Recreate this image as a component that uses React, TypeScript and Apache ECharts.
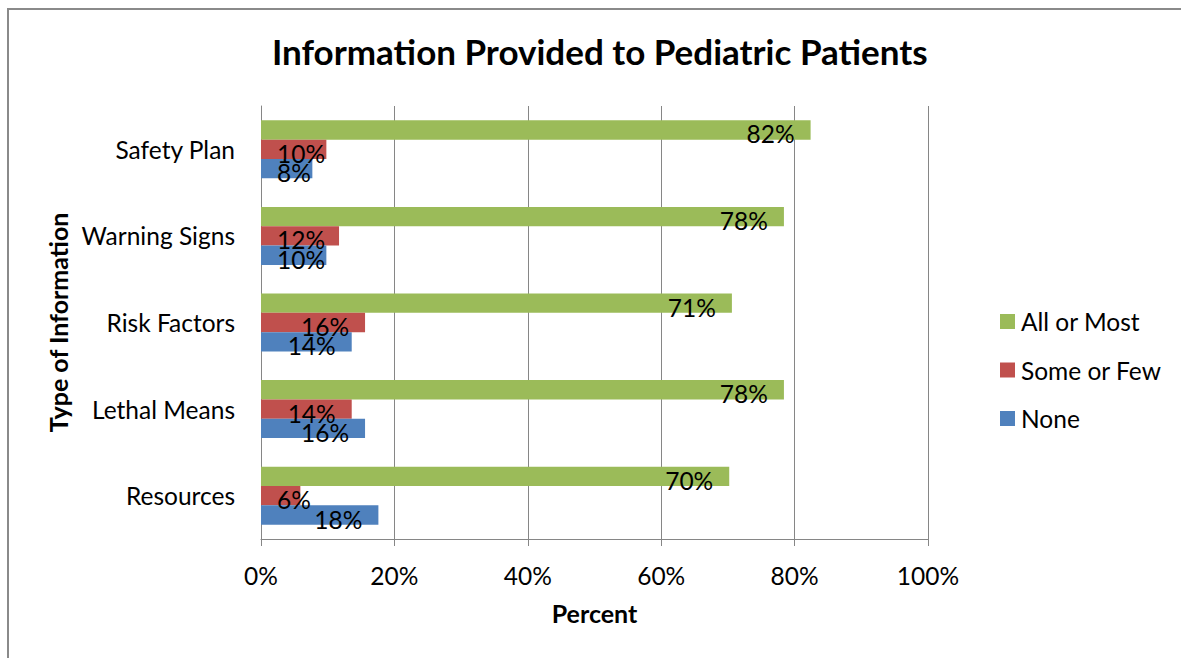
import React, { useEffect, useRef } from "react";
import * as echarts from "echarts";

const categories = ["Safety Plan", "Warning Signs", "Risk Factors", "Lethal Means", "Resources"];
const allOrMost = [82.4, 78.4, 70.6, 78.4, 70.2];
const someOrFew = [9.8, 11.7, 15.6, 13.6, 5.9];
const noneVals = [7.7, 9.8, 13.6, 15.6, 17.6];
const seriesNames = ["All or Most", "Some or Few", "None"];
const colors = { all: "#9BBB59", some: "#C0504D", none: "#4F81BD" };

const FONT = "Lato";
const BODY = 24.5;

function toData(vals: number[]) {
  return vals.map((v) =>
    v < 13
      ? { value: v, label: { position: "insideLeft", distance: 16 } }
      : { value: v }
  );
}

export default function App() {
  const ref = useRef<HTMLDivElement>(null);
  useEffect(() => {
    if (!ref.current) return;
    const chart = echarts.init(ref.current, undefined, { renderer: "svg" });
    const label = {
      show: true,
      position: "insideRight",
      distance: 16,
      color: "#000",
      fontFamily: FONT,
      fontSize: BODY,
      offset: [0, 4],
      formatter: (p: any) => Math.round(p.value) + "%",
    };
    const mk = (name: string, vals: number[], color: string) => ({
      name,
      type: "bar",
      data: toData(vals),
      itemStyle: { color },
      barGap: "0%",
      barCategoryGap: "33%",
      label,
    });
    chart.setOption({
      animation: false,
      textStyle: { fontFamily: FONT },
      title: {
        text: "Information Provided to Pediatric Patients",
        left: 272,
        top: 33,
        padding: 0,
        textStyle: { fontFamily: FONT, fontSize: 35, fontWeight: "bold", color: "#000" },
      },
      legend: {
        orient: "vertical",
        left: 1000,
        top: 309,
        padding: 0,
        itemWidth: 15,
        itemHeight: 15,
        itemGap: 23.5,
        icon: "rect",
        data: seriesNames,
        textStyle: { fontFamily: FONT, fontSize: BODY, color: "#000", padding: [0, 0, 0, 1] },
      },
      grid: { left: 261, right: 253, top: 106, bottom: 119, containLabel: false },
      xAxis: {
        type: "value",
        min: 0,
        max: 100,
        interval: 20,
        name: "Percent",
        nameLocation: "middle",
        nameGap: 61,
        nameTextStyle: { fontFamily: FONT, fontSize: 25, fontWeight: "bold", color: "#000" },
        axisLine: { show: true, lineStyle: { color: "#868686", width: 1 } },
        axisTick: { show: true, length: 7, lineStyle: { color: "#868686" } },
        axisLabel: { formatter: "{value}%", fontFamily: FONT, fontSize: BODY, color: "#000", margin: 24 },
        splitLine: { show: true, lineStyle: { color: "#868686", width: 1 } },
      },
      yAxis: {
        type: "category",
        inverse: true,
        data: categories,
        name: "Type of Information",
        nameLocation: "middle",
        nameRotate: 90,
        nameGap: 190,
        nameTextStyle: { fontFamily: FONT, fontSize: 25, fontWeight: "bold", color: "#000" },
        axisLine: { show: true, lineStyle: { color: "#868686", width: 1 } },
        axisTick: { show: false },
        axisLabel: { fontFamily: FONT, fontSize: BODY, color: "#000", margin: 26 },
      },
      series: [
        mk("All or Most", allOrMost, colors.all),
        mk("Some or Few", someOrFew, colors.some),
        mk("None", noneVals, colors.none),
      ],
    });
    return () => chart.dispose();
  }, []);
  return (
    <>
      <div
        style={{
          position: "absolute",
          left: 7,
          top: 8,
          width: 1174,
          height: 650,
          borderTop: "2px solid #8a8a8a",
          borderLeft: "2px solid #8a8a8a",
          boxSizing: "border-box",
        }}
      />
      <div ref={ref} style={{ position: "absolute", left: 0, top: 0, width: 1181, height: 658 }} />
    </>
  );
}
